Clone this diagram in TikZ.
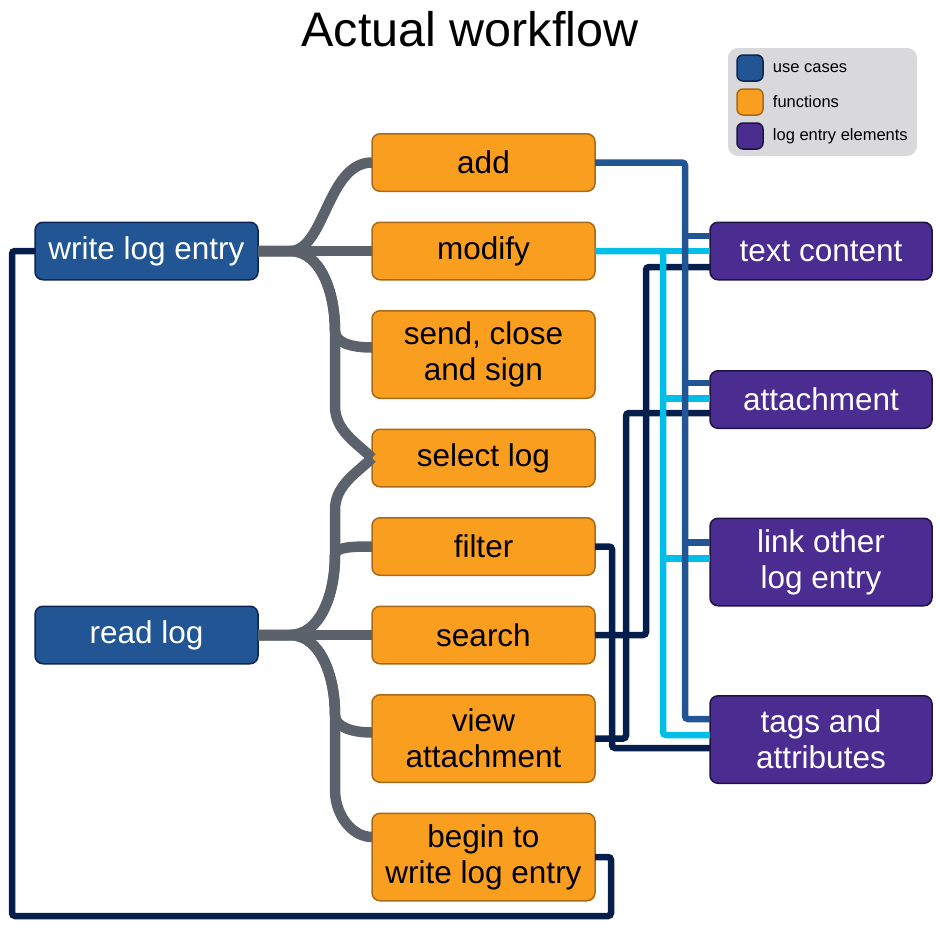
\documentclass[tikz,border=0pt]{standalone}
\usepackage{fontspec}
\setmainfont{Liberation Sans}
\usepackage{xcolor}
\usepackage{tikz}
\usetikzlibrary{positioning,calc}
\definecolor{useBlue}{HTML}{215594}
\definecolor{useBorder}{HTML}{0B2451}
\definecolor{funcOrange}{HTML}{F99E1F}
\definecolor{funcBorder}{HTML}{A86A18}
\definecolor{elemPurple}{HTML}{4B2C91}
\definecolor{elemBorder}{HTML}{1E1240}
\definecolor{treeGray}{HTML}{5B626B}
\definecolor{wireSky}{HTML}{00BEE8}
\definecolor{wireDark}{HTML}{061E4B}
\definecolor{legendGray}{HTML}{D9D9DB}
\tikzset{
  useCaseBox/.style={
    rectangle,
    rounded corners=8pt,
    draw=useBorder,
    line width=1.5pt,
    outer sep=0pt,
    fill=useBlue,
    text=white,
    minimum width=223pt,
    minimum height=57.5pt,
    align=center,
    font=\fontsize{31.5}{36}\selectfont
  },
  functionBox/.style={
    useCaseBox,
    draw=funcBorder,
    fill=funcOrange,
    text=black
  },
  elementBox/.style={
    useCaseBox,
    draw=elemBorder,
    fill=elemPurple,
    minimum width=222pt
  },
  twoLines/.style={
    minimum height=87.5pt
  },
  treeLine/.style={
    line width=10.5pt,
    draw=treeGray
  },
  wireBlue/.style={
    line width=6.5pt,
    draw=useBlue,
    rounded corners=3pt
  },
  wireCyan/.style={
    wireBlue,
    draw=wireSky
  },
  wireNavy/.style={
    wireBlue,
    draw=wireDark
  },
  legendPanel/.style={
    rectangle,
    rounded corners=10pt,
    fill=legendGray,
    minimum width=189pt,
    minimum height=108pt
  },
  legendKey/.style={
    rectangle,
    rounded corners=6pt,
    line width=1.5pt,
    minimum width=26pt,
    minimum height=26pt,
    inner sep=0pt
  },
  legendLabel/.style={
    inner sep=0pt,
    font=\fontsize{16.5}{20}\selectfont
  }
}

\begin{document}
\begin{tikzpicture}[x=1pt,y=1pt]
        \useasboundingbox (0,0) rectangle (940,-930);

        \node[anchor=base, font=\fontsize{48.5}{54}\selectfont] (title) at (470,-46) {Actual workflow};

        % legend
        \node[legendPanel] (legend) at (822.5,-102) {};
        \node[legendKey, draw=useBorder, fill=useBlue] (keyUse) at (750,-68) {};
        \node[legendKey, draw=funcBorder, fill=funcOrange] (keyFunc) at (750,-102) {};
        \node[legendKey, draw=elemBorder, fill=elemPurple] (keyElem) at (750,-136) {};
        \node[legendLabel, right=9pt of keyUse] (labUse) {use cases};
        \node[legendLabel, right=9pt of keyFunc] (labFunc) {functions};
        \node[legendLabel, right=9pt of keyElem] (labElem) {log entry elements};

        % functions
        \node[functionBox] (add) at (483.5,-162.5) {add};
        \node[functionBox, below=31pt of add] (modify) {modify};
        \node[functionBox, twoLines, below=31pt of modify] (send) {send, close\\and sign};
        \node[functionBox, below=31pt of send] (select) {select log};
        \node[functionBox, below=31pt of select] (filter) {filter};
        \node[functionBox, below=31pt of filter] (search) {search};
        \node[functionBox, twoLines, below=31pt of search] (view) {view\\attachment};
        \node[functionBox, twoLines, below=31pt of view] (begin) {begin to\\write log entry};

        % use cases
        \node[useCaseBox, left=114pt of modify] (write) {write log entry};
        \node[useCaseBox, left=114pt of search] (read) {read log};

        % log entry elements
        \node[elementBox] (text) at (821,-251) {text content};
        \node[elementBox, below=91pt of text] (attachment) {attachment};
        \node[elementBox, twoLines, below=90pt of attachment] (link) {link other\\log entry};
        \node[elementBox, twoLines, below=90pt of link] (tags) {tags and\\attributes};

        % tree of write log entry
        \draw[treeLine] (write.east) -- (modify.west);
        \draw[treeLine] (write.east) -- ++(32,0) .. controls +(35,0) and +(-45,0) .. (add.west);
        \draw[treeLine] (write.east) -- ++(32,0) .. controls +(30,0) and +(0,40) .. ++(45,-80)
            .. controls +(0,-12) and +(-20,0) .. ([yshift=7pt]send.west);
        \draw[treeLine] (write.east) -- ++(32,0) .. controls +(30,0) and +(0,40) .. ++(45,-80)
            -- ++(0,-75) .. controls +(0,-25) and +(-15,15) .. (select.west);

        % tree of read log
        \draw[treeLine] (read.east) -- (search.west);
        \draw[treeLine] (read.east) -- ++(32,0) .. controls +(30,0) and +(0,-40) .. ++(45,80)
            -- ++(0,45) .. controls +(0,25) and +(-15,-15) .. (select.west);
        \draw[treeLine] (read.east) -- ++(32,0) .. controls +(30,0) and +(0,-40) .. ++(45,80)
            .. controls +(0,8) and +(-20,0) .. (filter.west);
        \draw[treeLine] (read.east) -- ++(32,0) .. controls +(30,0) and +(0,40) .. ++(45,-80)
            .. controls +(0,-12) and +(-20,0) .. ([yshift=6pt]view.west);
        \draw[treeLine] (read.east) -- ++(32,0) .. controls +(30,0) and +(0,40) .. ++(45,-80)
            -- ++(0,-75) .. controls +(0,-25) and +(-20,0) .. ([yshift=20pt]begin.west);

        % wires to the log entry elements
        \draw[wireNavy] (search.east) -- ++(51,0) |- ([yshift=-16pt]text.west);
        \draw[wireNavy] (view.east) -- ++(31,0) |- ([yshift=-13.5pt]attachment.west);
        \draw[wireNavy] (filter.east) -- ++(17,0) |- ([yshift=-8.5pt]tags.west);
        \draw[wireNavy] (begin.east) -- ++(16,0) |- ++(-599,-59) |- (write.west);

        \draw[wireCyan] (modify.east) -- (text.west);
        \draw[wireCyan] (modify.east) -- ++(68,0) |- ([yshift=4.5pt]tags.west);
        \foreach \el/\dy in {attachment/1, link/3.5}
            \draw[wireCyan] ([yshift=\dy pt]\el.west) -- ++(-47,0);

        \draw[wireBlue] (add.east) -- ++(90,0) |- ([yshift=20.5pt]tags.west);
        \foreach \el/\dy in {text/15, attachment/16.5, link/19.5}
            \draw[wireBlue] ([yshift=\dy pt]\el.west) -- ++(-25,0);

    \end{tikzpicture}
\end{document}
